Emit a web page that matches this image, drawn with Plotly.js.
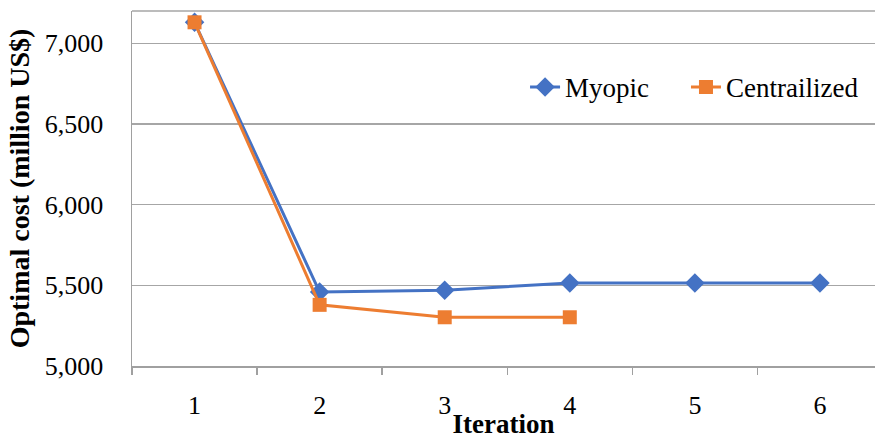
<!DOCTYPE html>
<html>
<head>
<meta charset="utf-8">
<script src="https://cdn.plot.ly/plotly-3.0.1.min.js"></script>
<style>html,body{margin:0;padding:0;background:#fff}#chart{width:875px;height:439px}</style>
</head>
<body>
<div id="chart"></div>
<script>
const iterations = ["1", "2", "3", "4", "5", "6"];
const myopic = [7130, 5458, 5470, 5514, 5514, 5514];
const centralized = [7130, 5379, 5302, 5302];
const yTicks = [5000, 5500, 6000, 6500, 7000];

const font = "'Liberation Serif', 'Times New Roman', serif";

const traces = [
  {
    x: iterations, y: myopic, name: "Myopic", type: "scatter", mode: "lines+markers",
    line: {color: "#4472C4", width: 3},
    marker: {symbol: "diamond", size: 15, color: "#4472C4"},
    legend: "legend"
  },
  {
    x: iterations.slice(0, centralized.length), y: centralized, name: "Centrailized", type: "scatter", mode: "lines+markers",
    line: {color: "#ED7D31", width: 3},
    marker: {symbol: "square", size: 14, color: "#ED7D31"},
    legend: "legend2"
  }
];

const legendBase = {yanchor: "middle", xanchor: "left", orientation: "h",
  font: {family: font, size: 27, color: "#000"}, bgcolor: "rgba(0,0,0,0)"};

const layout = {
  width: 875, height: 439,
  margin: {l: 132, r: 0, t: 11, b: 73},
  paper_bgcolor: "#fff", plot_bgcolor: "#fff",
  font: {family: font, size: 26, color: "#000"},
  showlegend: true,
  legend: Object.assign({}, legendBase, {x: 0.529, y: 0.785}),
  legend2: Object.assign({}, legendBase, {x: 0.7456, y: 0.785}),
  xaxis: {
    type: "category", range: [-0.5, 5.44],
    showgrid: false, zeroline: false,
    showline: true, linecolor: "#A0A0A0", linewidth: 1.5, mirror: false,
    ticks: "outside", tickson: "boundaries", ticklen: 7, tickcolor: "#A0A0A0", tickwidth: 1.5,
    ticklabelstandoff: 15,
    tickfont: {family: font, size: 26, color: "#000"},
    title: {text: "<b>Iteration</b>", font: {family: font, size: 27, color: "#000"}, standoff: 0}
  },
  yaxis: {
    range: [5000, 7200], tickvals: yTicks, tickformat: ",",
    showgrid: true, gridcolor: "#A6A6A6", gridwidth: 1.5, zeroline: false,
    showline: true, linecolor: "#A0A0A0", linewidth: 1.5,
    ticks: "", ticklabelstandoff: 22,
    tickfont: {family: font, size: 26, color: "#000"},
    title: {text: "<b>Optimal cost (million US$)</b>", font: {family: font, size: 28, color: "#000"}, standoff: 7}
  },
  shapes: [
    {type: "line", xref: "paper", yref: "paper", x0: 0, x1: 1, y0: 1, y1: 1, line: {color: "#A6A6A6", width: 1.5}}
  ]
};

Plotly.newPlot("chart", traces, layout, {displayModeBar: false, staticPlot: true});
</script>
</body>
</html>
